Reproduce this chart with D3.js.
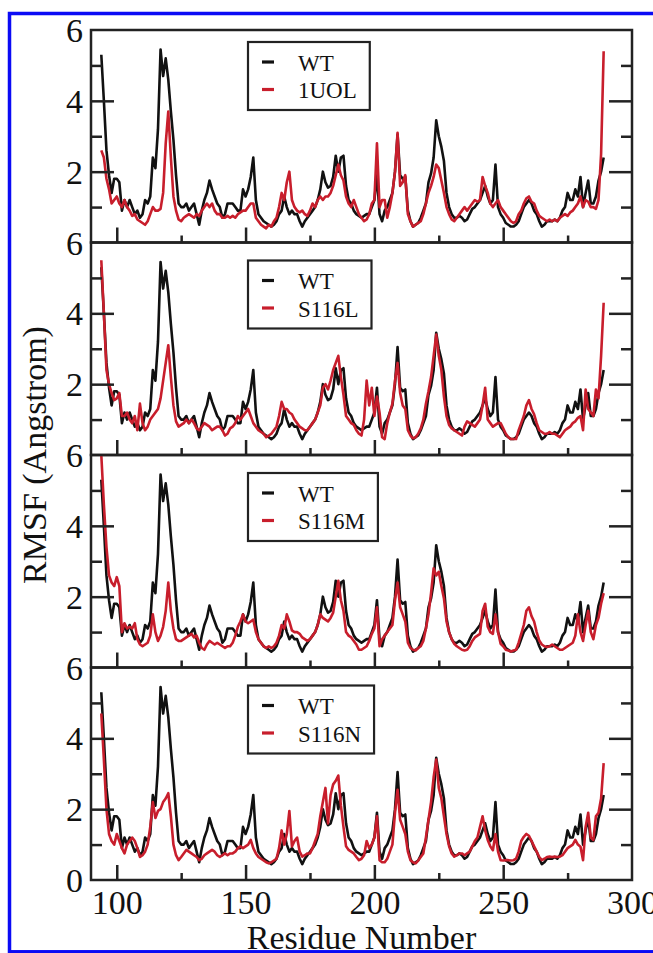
<!DOCTYPE html>
<html>
<head>
<meta charset="utf-8">
<script src="https://cdn.jsdelivr.net/npm/d3@7"></script>
<style>
body { margin: 0; background: #fff; }
svg text { font-family: "Liberation Serif", "Times New Roman", serif; }
</style>
</head>
<body>
<script>
// residue numbers, one value per residue
var residues = d3.range(94, 290);

var wt = [
  5.3,4.0,2.6,1.9,1.4,1.8,1.8,1.7,0.9,1.2,
  1.0,1.2,1.0,0.8,0.9,0.7,0.8,1.2,1.1,1.3,
  2.4,2.1,3.2,5.45,4.7,5.2,4.6,3.7,2.9,1.9,
  1.1,1.0,1.0,1.1,0.9,1.0,1.1,0.8,0.5,0.9,
  1.2,1.4,1.75,1.5,1.3,1.1,1.0,0.7,0.8,1.1,
  1.1,1.1,1.0,0.9,0.9,1.5,1.3,1.5,1.85,2.4,
  1.2,0.8,0.7,0.6,0.55,0.5,0.45,0.5,0.6,0.8,
  0.9,1.3,1.0,0.8,0.9,0.8,0.8,0.6,0.45,0.6,
  0.7,0.8,0.9,1.0,1.2,1.5,2.0,1.7,1.55,1.6,
  1.85,2.45,2.0,2.4,2.45,1.6,1.2,1.1,0.9,0.8,
  0.75,0.7,0.75,0.8,0.8,1.0,1.2,1.9,0.8,0.6,
  0.9,1.0,1.2,1.4,2.0,3.05,1.9,1.8,1.85,0.9,
  0.6,0.45,0.5,0.55,0.7,0.9,1.1,1.7,1.95,2.4,
  3.45,3.0,2.7,2.3,1.4,1.0,0.8,0.7,0.7,0.75,
  0.7,0.6,0.65,0.8,0.95,1.0,1.1,1.2,1.4,1.6,
  1.3,1.1,1.2,2.2,1.0,0.8,0.7,0.55,0.5,0.45,
  0.45,0.5,0.6,0.8,1.0,1.1,1.2,1.1,0.9,0.8,
  0.6,0.45,0.5,0.6,0.6,0.6,0.65,0.6,0.7,0.9,
  1.0,1.4,1.2,1.2,1.5,1.3,1.85,1.0,1.4,1.75,
  1.1,1.1,1.3,1.75,2.0,2.4];

var uol = [
  2.6,2.4,1.8,1.5,1.1,1.2,1.3,1.1,1.0,1.2,
  1.0,0.9,0.75,0.8,0.65,0.6,0.55,0.5,0.6,0.8,
  1.0,0.9,0.9,0.95,1.4,2.8,3.7,2.4,1.3,0.9,
  0.65,0.6,0.7,0.75,0.8,0.75,0.7,0.8,0.75,0.9,
  1.0,1.1,1.0,1.1,0.9,0.8,0.8,0.7,0.7,0.75,
  0.7,0.75,0.7,0.8,0.85,0.9,0.9,1.0,1.1,1.1,
  0.7,0.6,0.5,0.45,0.4,0.5,0.45,0.6,0.7,1.0,
  1.4,1.2,1.7,2.0,1.2,1.0,0.9,0.85,0.9,0.8,
  0.75,0.9,1.1,1.0,1.2,1.3,1.2,1.3,1.3,1.4,
  1.6,1.9,2.2,1.9,1.75,1.3,1.1,1.0,1.2,1.0,
  0.8,0.7,0.6,0.65,0.8,1.1,1.2,2.8,1.0,1.2,
  1.2,0.7,1.0,1.4,2.0,3.1,1.6,1.7,1.9,0.8,
  0.6,0.45,0.5,0.55,0.6,0.8,1.1,1.4,1.6,1.85,
  2.2,2.1,1.75,1.4,1.0,0.8,0.65,0.6,0.7,0.8,
  0.9,1.0,0.9,1.0,1.1,1.2,1.15,1.2,1.85,1.6,
  1.4,1.1,1.0,1.1,1.2,1.0,0.9,0.8,0.7,0.6,
  0.55,0.6,0.8,0.9,1.1,1.25,1.3,1.15,1.1,0.9,
  0.75,0.7,0.65,0.6,0.65,0.6,0.65,0.6,0.7,0.75,
  0.8,0.75,0.85,0.9,1.0,1.1,1.3,1.0,1.2,1.15,
  1.0,1.0,0.95,1.2,2.5,5.4];

var s116l = [
  5.5,4.0,2.4,2.0,1.75,1.55,1.6,1.75,1.1,1.1,
  1.2,1.0,0.9,1.1,0.7,1.45,0.9,0.7,0.8,1.0,
  1.1,1.2,1.3,1.6,2.1,2.6,3.1,2.2,1.4,0.95,
  0.8,0.85,0.9,1.0,0.9,1.0,0.9,0.75,0.7,0.8,
  0.9,0.85,0.8,0.7,0.75,0.8,0.8,0.7,0.55,0.6,
  0.75,0.8,0.9,1.1,1.0,1.1,1.2,1.3,1.1,0.9,
  0.8,0.7,0.65,0.6,0.5,0.55,0.6,0.7,0.8,1.1,
  1.5,1.3,1.3,1.2,1.15,1.0,0.9,0.8,0.75,0.7,
  0.7,0.8,0.9,1.0,1.2,1.4,1.9,2.0,1.85,2.1,
  2.4,2.6,2.8,2.2,1.7,1.1,1.0,0.9,0.85,0.7,
  0.6,0.55,1.0,2.1,1.4,1.9,1.1,1.65,1.2,0.5,
  0.45,0.9,1.2,1.45,2.1,2.6,1.75,1.4,1.3,0.7,
  0.55,0.47,0.5,0.6,0.75,1.0,1.45,1.8,2.2,2.8,
  3.4,2.8,2.4,1.65,1.1,0.85,0.75,0.7,0.65,0.6,
  0.55,0.8,0.95,0.9,0.85,0.8,0.9,1.0,1.4,1.9,
  1.0,0.9,0.8,0.85,0.9,0.9,0.75,0.6,0.5,0.45,
  0.45,0.45,0.7,0.9,1.1,1.4,1.55,1.3,1.15,0.9,
  0.7,0.65,0.6,0.6,0.65,0.6,0.6,0.55,0.5,0.6,
  0.7,0.75,0.8,0.9,0.95,1.05,1.1,0.7,1.85,1.3,
  1.2,1.1,1.85,1.6,2.8,4.3];

var s116m = [
  6.0,4.6,3.4,2.6,2.4,2.3,2.55,2.3,1.0,1.25,
  1.1,1.15,1.1,1.25,0.8,0.65,0.6,0.65,0.7,0.9,
  1.5,1.0,0.75,0.9,1.15,1.6,2.4,1.6,1.1,0.8,
  0.75,0.75,0.8,0.85,0.9,0.95,0.85,0.9,0.7,0.55,
  0.5,0.65,0.75,0.7,0.65,0.7,0.65,0.6,0.55,0.6,
  0.6,0.7,0.9,1.15,1.3,1.5,1.3,1.25,1.3,1.35,
  1.0,0.8,0.7,0.6,0.55,0.6,0.55,0.6,0.7,0.9,
  1.2,1.1,1.5,1.3,1.05,1.0,1.0,0.95,0.85,0.8,
  0.75,0.8,0.9,1.0,1.2,1.5,1.4,1.35,1.3,1.4,
  1.55,2.0,2.45,1.9,1.6,1.0,0.9,0.85,0.75,0.65,
  0.5,0.5,0.55,0.6,0.75,0.95,1.1,1.7,0.6,0.8,
  0.9,1.0,1.1,1.2,1.9,2.4,1.7,1.5,1.3,0.7,
  0.55,0.5,0.48,0.55,0.6,0.75,1.1,1.5,2.1,2.8,
  2.6,2.7,2.3,1.95,1.3,1.0,0.8,0.67,0.6,0.55,
  0.5,0.48,0.5,0.6,0.75,0.85,0.9,0.95,1.6,1.8,
  1.15,1.0,0.95,1.5,1.0,0.67,0.6,0.5,0.48,0.45,
  0.48,0.5,0.7,0.95,1.2,1.6,1.7,1.45,1.3,1.0,
  0.76,0.65,0.6,0.58,0.6,0.65,0.6,0.55,0.5,0.5,
  0.55,0.6,0.65,0.7,0.9,1.5,1.0,0.75,1.2,1.6,
  1.0,0.8,1.2,1.4,1.8,2.1];

var s116n = [
  4.7,3.4,2.0,1.3,1.1,1.0,1.3,1.1,0.9,0.75,
  1.0,1.1,1.2,1.1,0.9,0.65,0.7,0.8,1.0,1.5,
  2.2,1.75,1.95,2.0,2.2,2.3,2.45,1.8,1.0,0.7,
  0.56,0.65,0.75,0.85,0.8,0.75,0.7,0.65,0.56,0.6,
  0.7,0.75,0.8,0.85,0.8,0.7,0.65,0.7,0.75,0.7,
  0.75,0.75,0.8,0.9,0.95,0.9,0.95,1.0,1.13,0.9,
  0.75,0.65,0.6,0.55,0.5,0.47,0.5,0.55,0.6,0.9,
  1.4,1.0,1.3,1.95,0.95,1.1,1.2,0.8,0.66,0.7,
  0.75,0.75,0.9,1.1,1.3,1.8,2.2,2.6,1.6,2.4,
  2.7,2.8,2.95,2.1,1.5,0.95,0.85,0.8,0.75,0.65,
  0.56,0.6,0.7,1.1,0.9,1.0,1.2,1.8,0.56,0.5,
  0.5,0.6,0.8,1.0,1.9,2.55,1.7,1.5,1.3,0.8,
  0.56,0.5,0.47,0.55,0.65,0.75,1.2,1.7,2.2,2.9,
  3.4,2.6,2.3,1.8,1.3,0.95,0.75,0.66,0.7,0.75,
  0.75,0.7,0.75,0.8,0.95,1.1,1.2,1.5,1.8,1.4,
  1.13,0.95,0.84,1.3,0.8,0.56,0.55,0.56,0.56,0.55,
  0.56,0.6,0.8,1.1,1.22,1.3,1.25,1.1,0.95,0.8,
  0.65,0.56,0.6,0.65,0.66,0.65,0.66,0.65,0.66,0.7,
  0.8,0.9,0.95,1.0,1.13,1.0,0.94,0.56,1.5,1.9,
  1.2,1.13,1.8,1.9,2.3,3.3];

var mutantNames = ["1UOL", "S116L", "S116M", "S116N"];
var mutantValues = [uol, s116l, s116m, s116n];
var refName = "WT";

var yMajor = [2, 4];
var yMinor = [1, 3, 5];
var xMajor = [100, 150, 200, 250];
var xMinor = [125, 175, 225, 275];
var xLabels = [100, 150, 200, 250, 300];

// layout
var W = 653, H = 953;
var frame = {left: 91, right: 632, top: 30, bottom: 880};
var panelH = (frame.bottom - frame.top) / 4;
var legendTop = [12, 18, 18, 18];
var black = "#111", red = "#c81e2c", axisCol = "#222";

var svg = d3.select("body").append("svg")
    .attr("width", W)
    .attr("height", H);

svg.append("rect").attr("width", W).attr("height", H).attr("fill", "#fff");

var x = d3.scaleLinear().domain([90, 300]).range([frame.left, frame.right]);

function ticks(g, axis) {
  g.call(axis);
  g.select(".domain").remove();
  g.attr("color", axisCol);
  g.selectAll("line").attr("stroke-width", 2.5);
}

mutantNames.forEach(function(name, i) {
  var top = frame.top + i * panelH;
  var bottom = top + panelH;
  var y = d3.scaleLinear().domain([0, 6]).range([bottom, top]);

  var line = d3.line()
      .x(function(d, j) { return x(residues[j]); })
      .y(function(d) { return y(d); });

  var p = svg.append("g");

  p.append("path").datum(wt)
      .attr("d", line).attr("fill", "none")
      .attr("stroke", black).attr("stroke-width", 2.6)
      .attr("stroke-linejoin", "round");
  p.append("path").datum(mutantValues[i])
      .attr("d", line).attr("fill", "none")
      .attr("stroke", red).attr("stroke-width", 2.6)
      .attr("stroke-linejoin", "round");

  // inward ticks
  ticks(p.append("g").attr("transform", "translate(" + frame.left + ",0)"),
        d3.axisLeft(y).tickValues(yMajor).tickSize(-23).tickFormat(""));
  ticks(p.append("g").attr("transform", "translate(" + frame.left + ",0)"),
        d3.axisLeft(y).tickValues(yMinor).tickSize(-11).tickFormat(""));
  ticks(p.append("g").attr("transform", "translate(" + frame.right + ",0)"),
        d3.axisRight(y).tickValues(yMajor).tickSize(-23).tickFormat(""));
  ticks(p.append("g").attr("transform", "translate(" + frame.right + ",0)"),
        d3.axisRight(y).tickValues(yMinor).tickSize(-11).tickFormat(""));
  ticks(p.append("g").attr("transform", "translate(0," + bottom + ")"),
        d3.axisBottom(x).tickValues(xMajor).tickSize(-15).tickFormat(""));
  ticks(p.append("g").attr("transform", "translate(0," + bottom + ")"),
        d3.axisBottom(x).tickValues(xMinor).tickSize(-7).tickFormat(""));

  p.append("rect")
      .attr("x", frame.left).attr("y", top)
      .attr("width", frame.right - frame.left).attr("height", panelH)
      .attr("fill", "none").attr("stroke", axisCol).attr("stroke-width", 2.5);

  // y labels
  var yl = p.append("g").attr("transform", "translate(" + frame.left + ",0)")
      .call(d3.axisLeft(y).tickValues(i == 3 ? [0, 2, 4, 6] : [2, 4, 6])
        .tickSize(0).tickPadding(8).tickFormat(d3.format("d")));
  yl.select(".domain").remove();
  yl.attr("font-size", null).attr("font-family", null);
  yl.selectAll("text").attr("font-size", 34).attr("fill", "#111").attr("dy", "0.34em");

  // legend
  var lg = p.append("g").attr("transform", "translate(248," + (top + legendTop[i]) + ")");
  var box = lg.append("rect").attr("height", 68)
      .attr("fill", "#fff").attr("stroke", axisCol).attr("stroke-width", 2.2);
  var entries = [{label: refName, color: black}, {label: name, color: red}];
  var maxW = 0;
  entries.forEach(function(e, k) {
    lg.append("line").attr("x1", 14).attr("x2", 26)
        .attr("y1", 20 + k * 27.5).attr("y2", 20 + k * 27.5)
        .attr("stroke", e.color).attr("stroke-width", 3.2);
    var t = lg.append("text").attr("x", 50).attr("y", 28.5 + k * 27.5)
        .attr("font-size", 23).attr("fill", "#111").text(e.label);
    maxW = Math.max(maxW, t.node().getComputedTextLength());
  });
  box.attr("width", 50 + maxW + 13);
});

// x labels on bottom panel
var xl = svg.append("g").attr("transform", "translate(0," + frame.bottom + ")")
    .call(d3.axisBottom(x).tickValues(xLabels).tickSize(0).tickPadding(10));
xl.select(".domain").remove();
xl.attr("font-size", null).attr("font-family", null);
xl.selectAll("text").attr("font-size", 34).attr("fill", "#111");

svg.append("text")
    .attr("x", (frame.left + frame.right) / 2).attr("y", 949)
    .attr("text-anchor", "middle").attr("font-size", 34).attr("fill", "#111")
    .text("Residue Number");

svg.append("text")
    .attr("transform", "translate(46," + ((frame.top + frame.bottom) / 2) + ") rotate(-90)")
    .attr("text-anchor", "middle").attr("font-size", 34).attr("fill", "#111")
    .text("RMSF (Angstrom)");

// blue outer border
svg.append("rect")
    .attr("x", 9.5).attr("y", 13.5).attr("width", 700).attr("height", 938.3)
    .attr("fill", "none").attr("stroke", "#0b0bf5").attr("stroke-width", 3.5);
</script>
</body>
</html>
